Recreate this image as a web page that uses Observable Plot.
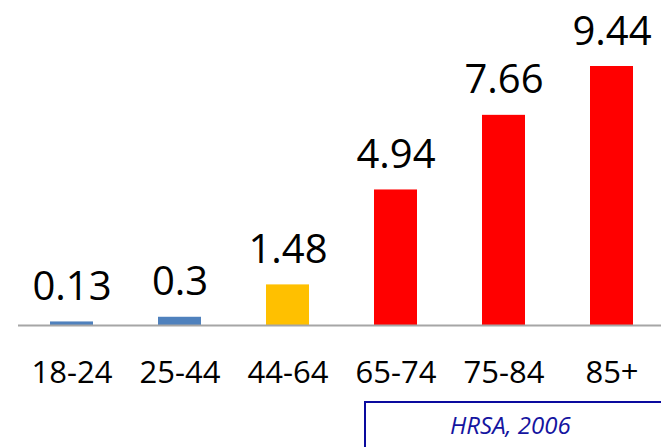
<!DOCTYPE html>
<html>
<head>
<meta charset="utf-8">
<script src="https://cdn.jsdelivr.net/npm/d3@7"></script>
<script src="https://cdn.jsdelivr.net/npm/@observablehq/plot@0.6"></script>
<style>
  html, body { margin: 0; padding: 0; background: #fff; }
  #wrap { position: relative; width: 661px; height: 447px; overflow: hidden; }
  #source {
    position: absolute; left: 364px; top: 401px; width: 320px; height: 80px;
    border: 2px solid #0a0a9e; box-sizing: border-box;
    font-family: "Open Sans", sans-serif; font-style: italic; font-size: 24px;
    color: #1414a0;
  }
  #source span { position: absolute; left: 84px; top: 5px; white-space: nowrap; }
</style>
</head>
<body>
<div id="wrap"></div>
<script>
const ageGroups = ["18-24", "25-44", "44-64", "65-74", "75-84", "85+"];
const rates = [0.13, 0.3, 1.48, 4.94, 7.66, 9.44];
const barColors = ["#4f81bd", "#4f81bd", "#ffc000", "#ff0000", "#ff0000", "#ff0000"];
const sourceText = "HRSA, 2006";

const data = ageGroups.map((g, i) => ({group: g, value: rates[i], color: barColors[i]}));

const chart = Plot.plot({
  width: 661,
  height: 447,
  marginLeft: 18,
  marginRight: 0,
  marginTop: 0,
  marginBottom: 122,
  style: {fontFamily: "'Open Sans', sans-serif", background: "#fff", color: "#000"},
  x: {domain: ageGroups, range: [18, 666], paddingInner: 0.6, paddingOuter: 0.3},
  y: {domain: [0, 9.44], range: [325, 66], axis: null},
  marks: [
    Plot.barY(data, {x: "group", y: "value", fill: "color"}),
    Plot.ruleY([0], {stroke: "#a6a6a6", strokeWidth: 2}),
    Plot.text(data, {x: "group", y: "value", text: d => String(d.value), fontSize: 40, fill: "#000", lineAnchor: "bottom", dy: -22}),
    Plot.axisX({tickSize: 0, tickPadding: 35, fontSize: 31, label: null, fill: "#000"})
  ]
});

const wrap = document.getElementById("wrap");
wrap.appendChild(chart);
const box = document.createElement("div");
box.id = "source";
const sp = document.createElement("span");
sp.textContent = sourceText;
box.appendChild(sp);
wrap.appendChild(box);
</script>
</body>
</html>
